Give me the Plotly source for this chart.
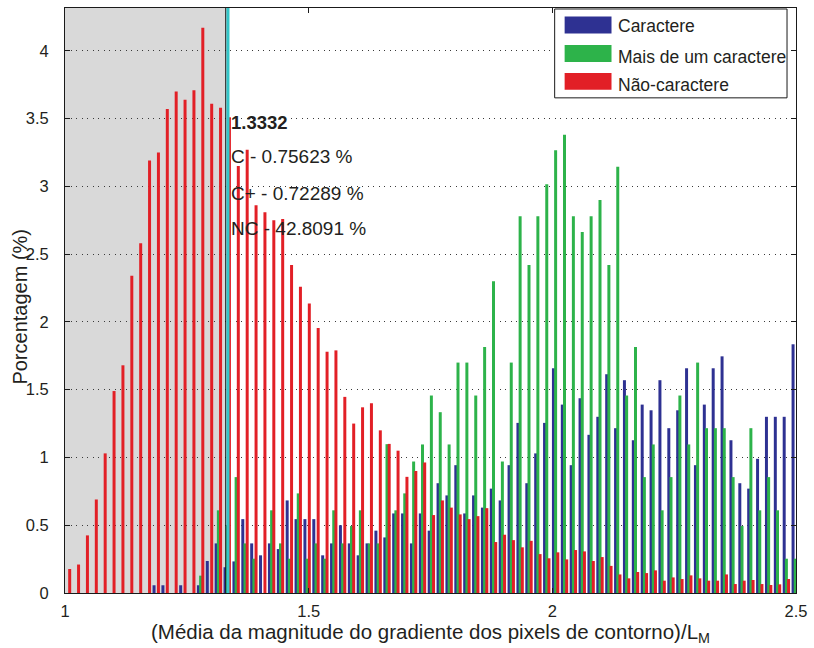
import numpy as np
import plotly.graph_objects as go

# Histogram bins shared by the three classes (group centres)
bin_first_center = 1.0051
bin_width = 0.018212
n_bins = 83

# Percentage of components per bin
caractere = [
    0, 0, 0, 0, 0, 0, 0, 0, 0, 0,
    0.057, 0.057, 0, 0.057, 0, 0.057, 0.236, 0.366, 0.19, 0.233,
    0.545, 0.366, 0.278, 0.366, 0.324, 0.683, 0.545, 0.545, 0.545, 0.278,
    0.366, 0.50, 0.366, 0.278, 0.366, 0.46, 0.41, 0.587, 0.587, 0.366,
    0.587, 0.46, 0.81, 0.72, 0.943, 0.587, 0.72, 0.63, 0.77, 0.683,
    0.943, 1.255, 0.81, 1.03, 1.255, 1.658, 1.39, 0.943, 1.437, 1.167,
    1.30, 1.614, 1.216, 1.57, 1.127, 1.39, 1.348, 1.57, 1.216, 1.348,
    1.658, 0.943, 1.39, 1.658, 1.746, 1.127, 0.81, 0.77, 0.99, 1.30,
    1.30, 1.30, 1.835,
]
mais_de_um = [
    0, 0, 0, 0, 0, 0, 0, 0, 0, 0,
    0, 0, 0, 0, 0, 0.128, 0, 0.61, 0.5, 0.855,
    0.366, 0.253, 0, 0.61, 0.366, 0.253, 0.735, 0.253, 0.366, 0.253,
    0.61, 0.366, 0.494, 0.61, 0.366, 0.366, 1.098, 0.61, 0.735, 0.97,
    1.096, 1.457, 1.334, 1.096, 1.70, 1.70, 1.457, 1.815, 2.30, 0.97,
    1.70, 2.78, 2.42, 2.78, 3.016, 3.267, 3.38, 2.78, 2.663, 2.78,
    2.90, 2.42, 3.144, 1.457, 1.815, 0.855, 1.096, 0.61, 0.855, 1.457,
    1.096, 1.70, 1.216, 1.216, 1.216, 0.855, 0.494, 1.216, 0.61, 0.855,
    0.61, 0.253, 0.253,
]
nao_caractere = [
    0.177, 0.21, 0.425, 0.69, 1.03, 1.49, 1.68, 2.34, 2.58, 3.19,
    3.25, 3.57, 3.70, 3.64, 3.71, 4.17, 3.61, 3.58, 3.51, 3.15,
    3.27, 2.86, 2.81, 2.75, 2.76, 2.42, 2.26, 2.135, 1.955, 1.78,
    1.79, 1.447, 1.25, 1.37, 1.40, 1.20, 1.10, 1.05, 0.857, 0.90,
    0.963, 0.575, 0.683, 0.63, 0.58, 0.545, 0.567, 0.626, 0.376, 0.43,
    0.39, 0.337, 0.385, 0.287, 0.256, 0.30, 0.248, 0.317, 0.307, 0.236,
    0.265, 0.20, 0.137, 0.108, 0.155, 0.147, 0.167, 0.091, 0.115, 0.103,
    0.13, 0.108, 0.091, 0.091, 0.137, 0.066, 0.091, 0.096, 0.066, 0.059,
    0.064, 0.103, 0.059,
]

series_names = ["Caractere", "Mais de um caractere", "Não-caractere"]
series_values = [caractere, mais_de_um, nao_caractere]
series_colors = ["#2e3192", "#2db34a", "#e21f26"]

threshold = 1.3332
stats_lines = ["C - 0.75623 %", "C+ - 0.72289 %", "NC - 42.8091 %"]

x_tick_vals = [1, 1.5, 2, 2.5]
x_tick_text = ["1", "1.5", "2", "2.5"]
y_tick_vals = [0, 0.5, 1, 1.5, 2, 2.5, 3, 3.5, 4]
y_tick_text = ["0", "0.5", "1", "1.5", "2", "2.5", "3", "3.5", "4"]

# ---- figure geometry (pixels) ----
W, H = 814, 648
L, R, T, B = 65, 16, 7, 55
plot_w = W - L - R
plot_h = H - T - B
x_range = [1, 2.5]
y_range = [0, 4.316]
px_per_x = plot_w / (x_range[1] - x_range[0])

FONT = "Liberation Sans"
TEXT_COLOR = "#231f20"

centers = bin_first_center + bin_width * np.arange(n_bins)
group_shift_px = [-2.2, 0.0, 2.2]
bar_w = 3.0 / px_per_x

fig = go.Figure()
for name, vals, color, shift in zip(series_names, series_values, series_colors, group_shift_px):
    fig.add_trace(go.Bar(
        x=centers + shift / px_per_x,
        y=vals,
        width=bar_w,
        name=name,
        marker=dict(color=color, line=dict(width=0)),
        showlegend=False,
    ))


def px_to_paper(px, py):
    return (px - L) / plot_w, (H - B - py) / plot_h


shapes = []
# shaded region below the threshold
shapes.append(dict(type="rect", xref="x", yref="paper", x0=x_range[0], x1=threshold - 1.6 / px_per_x,
                   y0=0, y1=1, fillcolor="#d9d9d9", line=dict(width=0), layer="below"))
# threshold markers
shapes.append(dict(type="line", xref="x", yref="paper", x0=threshold - 1.6 / px_per_x,
                   x1=threshold - 1.6 / px_per_x, y0=0, y1=1,
                   line=dict(color="#1a1a1a", width=1.2), layer="above"))
shapes.append(dict(type="line", xref="x", yref="paper", x0=threshold + 0.6 / px_per_x,
                   x1=threshold + 0.6 / px_per_x, y0=0, y1=1,
                   line=dict(color="#33c6c8", width=3), layer="above"))

# legend box
lx0, ly0 = px_to_paper(556, 8)
lx1, ly1 = px_to_paper(789, 97)
shapes.append(dict(type="rect", xref="paper", yref="paper", x0=lx0, x1=lx1, y0=ly1, y1=ly0,
                   fillcolor="white", line=dict(color="#1a1a1a", width=1), layer="above"))

annotations = []
legend_patch_rows = [24, 52.5, 80.5]
legend_text_rows = [25, 56, 84]
for name, color, prow, trow in zip(series_names, series_colors, legend_patch_rows, legend_text_rows):
    ax0, ay0 = px_to_paper(566, prow - 8.5)
    ax1, ay1 = px_to_paper(613, prow + 8.5)
    shapes.append(dict(type="rect", xref="paper", yref="paper", x0=ax0, x1=ax1, y0=ay1, y1=ay0,
                       fillcolor=color, line=dict(width=0), layer="above"))
    tx, ty = px_to_paper(618, trow)
    annotations.append(dict(xref="paper", yref="paper", x=tx, y=ty, text=name, showarrow=False,
                            xanchor="left", yanchor="middle",
                            font=dict(family=FONT, size=17.5, color=TEXT_COLOR)))

# threshold statistics text
text_x = threshold + 1.6 / px_per_x
annotations.append(dict(xref="x", yref="y", x=text_x, y=3.47, text="<b>1.3332</b>", showarrow=False,
                        xanchor="left", yanchor="middle",
                        font=dict(family=FONT, size=18.5, color=TEXT_COLOR)))
for line, yv in zip(stats_lines, [3.22, 2.95, 2.69]):
    annotations.append(dict(xref="x", yref="y", x=text_x, y=yv, text=line, showarrow=False,
                            xanchor="left", yanchor="middle",
                            font=dict(family=FONT, size=19, color=TEXT_COLOR)))

# y-axis title
ytx, yty = px_to_paper(20, 306)
annotations.append(dict(xref="paper", yref="paper", x=ytx, y=yty, text="Porcentagem (%)",
                        showarrow=False, textangle=-90, xanchor="center", yanchor="middle",
                        font=dict(family=FONT, size=20, color=TEXT_COLOR)))

fig.update_layout(
    width=W, height=H,
    margin=dict(l=L, r=R, t=T, b=B, pad=0),
    paper_bgcolor="white", plot_bgcolor="white",
    barmode="overlay",
    shapes=shapes,
    annotations=annotations,
    font=dict(family=FONT, size=16, color=TEXT_COLOR),
    xaxis=dict(
        range=x_range, tickvals=x_tick_vals, ticktext=x_tick_text,
        ticks="inside", ticklen=5, tickcolor="#1a1a1a",
        showgrid=False, zeroline=False,
        showline=True, linecolor="#1a1a1a", linewidth=1, mirror="ticks",
        tickfont=dict(family=FONT, size=16.5, color=TEXT_COLOR),
        ticklabelstandoff=3,
        title=dict(text="(Média da magnitude do gradiente dos pixels de contorno)/L<sub>M</sub>",
                   font=dict(family=FONT, size=20.5, color=TEXT_COLOR), standoff=4),
    ),
    yaxis=dict(
        range=y_range, tickvals=y_tick_vals, ticktext=y_tick_text,
        ticks="inside", ticklen=5, tickcolor="#1a1a1a",
        showgrid=True, gridcolor="#3a3a3a", gridwidth=1, griddash="1px,4.5px",
        zeroline=False,
        showline=True, linecolor="#1a1a1a", linewidth=1, mirror="ticks",
        tickfont=dict(family=FONT, size=16.5, color=TEXT_COLOR),
        ticklabelstandoff=12,
    ),
)

fig.write_html("out.html")
